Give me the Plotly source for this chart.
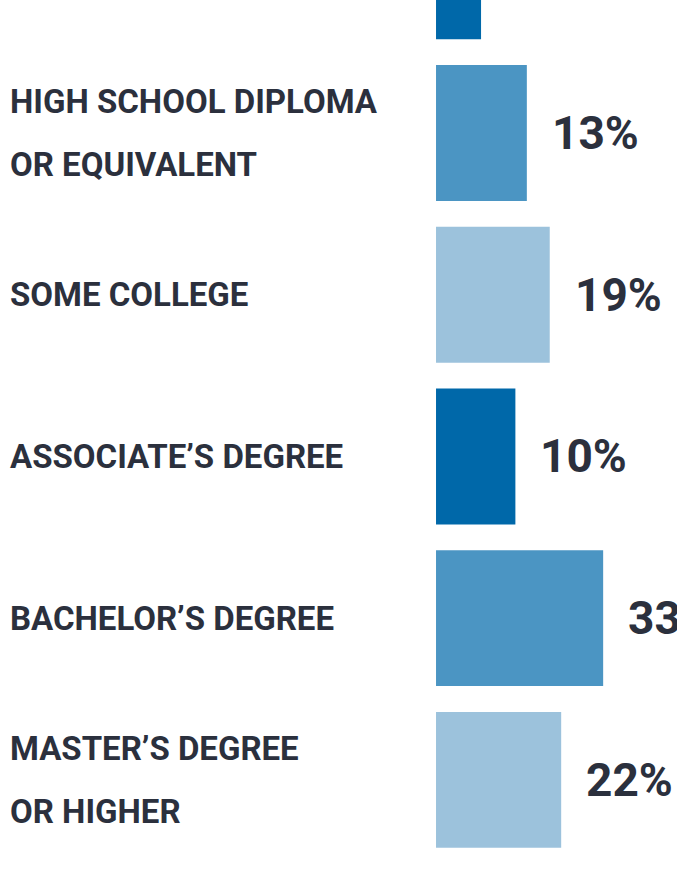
import plotly.graph_objects as go

# education levels, top to bottom (first row is cut off at the top of the crop)
categories = [
    "LESS THAN HIGH SCHOOL",
    "HIGH SCHOOL DIPLOMA<br>OR EQUIVALENT",
    "SOME COLLEGE",
    "ASSOCIATE’S DEGREE",
    "BACHELOR’S DEGREE",
    "MASTER’S DEGREE<br>OR HIGHER",
]
values = [1, 13, 19, 10, 33, 22]
colors = ["#0068a9", "#4b95c3", "#9cc2dc", "#0068a9", "#4b95c3", "#9cc2dc"]

FLOOR = 10.8  # bars are drawn with a minimum stub length
TEXT = "#2b303d"
LABEL_FONT = dict(family="Roboto", size=33, color=TEXT, weight=700)

fig = go.Figure(
    go.Bar(
        y=categories,
        x=[v + FLOOR for v in values],
        base=-FLOOR,
        orientation="h",
        marker=dict(color=colors, line=dict(width=0)),
        width=0.84,
        hoverinfo="skip",
    )
)

for cat, v in zip(categories, values):
    # percent labels to the right of each bar
    fig.add_annotation(
        x=v + 6.0, y=cat, text=f"<b>{v}%</b>", showarrow=False,
        xanchor="left", yanchor="middle",
        font=dict(family="Roboto", size=46, color=TEXT),
    )
    # category labels on the left, one annotation per line for wider leading
    lines = cat.split("<br>")
    for i, line in enumerate(lines):
        shift = (len(lines) - 1) / 2 * 63 - i * 63
        fig.add_annotation(
            x=0.012, xref="paper", y=cat, yshift=shift, text=line,
            showarrow=False, xanchor="left", yanchor="middle", align="left",
            font=LABEL_FONT,
        )

fig.update_layout(
    width=677,
    height=871,
    margin=dict(l=0, r=0, t=0, b=0),
    paper_bgcolor="white",
    plot_bgcolor="white",
    showlegend=False,
    xaxis=dict(range=[-125.06, 52.35], visible=False, fixedrange=True),
    yaxis=dict(range=[5.563, 0.178], visible=False, fixedrange=True),
)

fig.write_html(
    "out.html",
    config={"displayModeBar": False},
    post_script="document.body.style.margin='0';document.body.style.overflow='hidden';",
)
